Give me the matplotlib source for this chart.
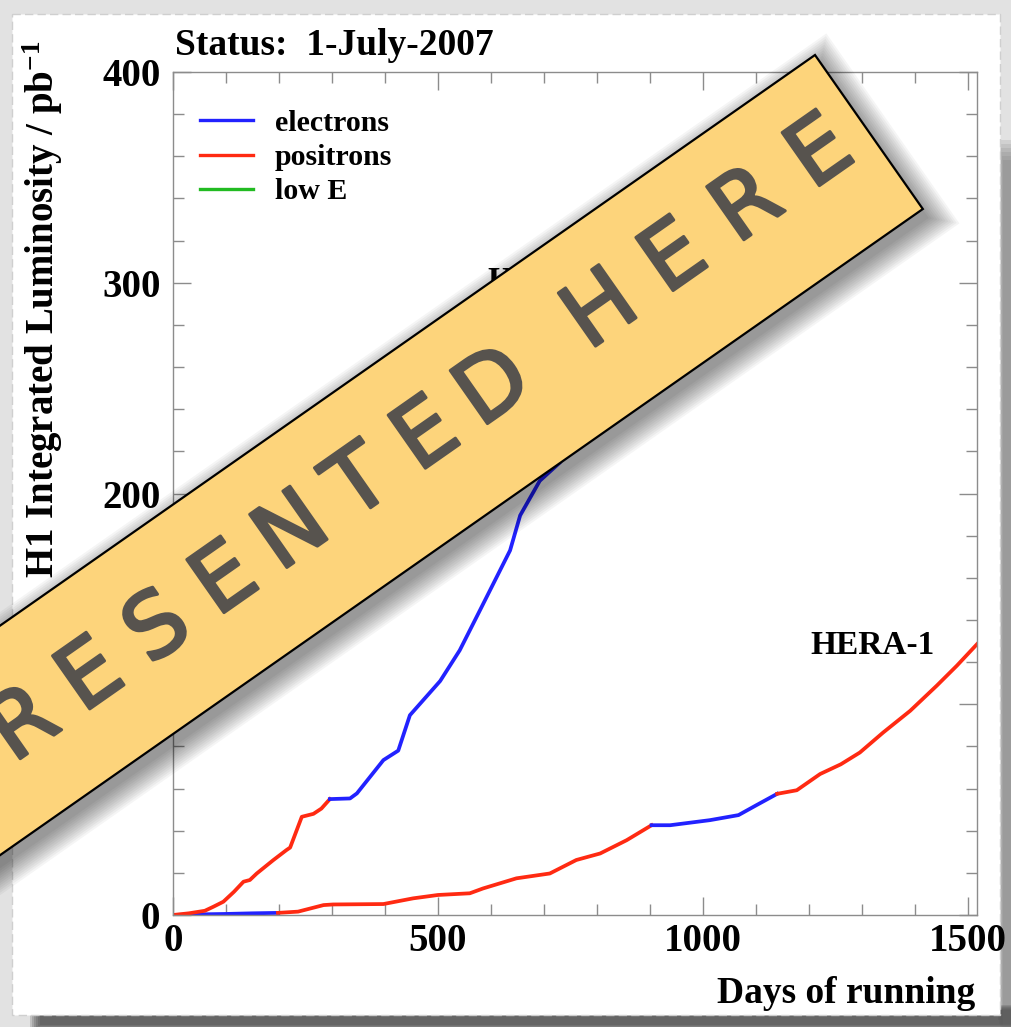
import numpy as np
import matplotlib
matplotlib.use('Agg')
import matplotlib.pyplot as plt
import matplotlib.patheffects as pe
from matplotlib.patches import Polygon, Rectangle
from matplotlib.lines import Line2D

plt.rcParams['font.family'] = ['Liberation Serif', 'DejaVu Serif']
plt.rcParams['font.weight'] = 'bold'
plt.rcParams['mathtext.fontset'] = 'custom'
plt.rcParams['mathtext.rm'] = 'Liberation Serif:bold'
plt.rcParams['mathtext.it'] = 'Liberation Serif:bold'
plt.rcParams['mathtext.bf'] = 'Liberation Serif:bold'

# HERA-1 (lower curve), split by beam type
h1_e_a_days = [0, 50, 100, 150, 198]
h1_e_a_lumi = [0, 0.3, 0.5, 0.8, 1.0]
h1_p_a_days = [198, 236, 284, 302, 397, 453, 500, 560, 585, 648, 711, 761, 806, 856, 903]
h1_p_a_lumi = [1.0, 1.6, 4.7, 5.0, 5.2, 7.9, 9.5, 10.3, 12.6, 17.4, 19.7, 26.1, 29.2, 35.5, 42.6]
h1_e_b_days = [903, 938, 1013, 1067, 1100, 1140]
h1_e_b_lumi = [42.6, 42.6, 45.0, 47.4, 52.0, 57.5]
h1_p_b_days = [1140, 1177, 1221, 1260, 1296, 1340, 1391, 1441, 1479, 1517]
h1_p_b_lumi = [57.5, 59.2, 66.9, 71.5, 77.1, 86.6, 96.9, 108.8, 118.3, 128.5]

# HERA-2 (upper curve)
h2_p_days = [0, 30, 60, 76, 95, 115, 133, 145, 158, 189, 214, 221, 243, 265, 280, 296]
h2_p_lumi = [0, 0.8, 2.0, 3.9, 6.3, 11.0, 15.8, 16.6, 19.7, 26.0, 30.8, 32.0, 46.6, 48.0, 50.5, 55.0]
h2_e_days = [296, 334, 347, 397, 425, 447, 504, 541, 579, 617, 636, 655, 692, 730,
             780, 830, 880, 930, 980, 1030, 1080, 1130, 1170]
h2_e_lumi = [55.0, 55.3, 57.7, 73.5, 78.0, 94.8, 111.0, 125.6, 144.5, 163.5, 173.0, 189.6, 206.0, 214.7,
             232, 250, 262, 278, 295, 310, 325, 340, 350]
h2_low_days = [1170, 1200]
h2_low_lumi = [350, 354]

c_e = '#2222ff'
c_p = '#ff2a12'
c_low = '#22bb22'

fig = plt.figure(figsize=(10.12, 10.27), dpi=100)
fig.patch.set_facecolor('#e2e2e2')

# paper background
bg = fig.add_axes([0, 0, 1, 1], zorder=-5)
bg.set_xlim(0, 1012)
bg.set_ylim(1027, 0)
bg.axis('off')
for i in range(6):
    bg.add_patch(Rectangle((30 + i * 2, 1010 - i), 982, 20, color='#3a3a3a', alpha=0.2, lw=0))
    bg.add_patch(Rectangle((998 + i, 140 + i * 4), 14, 880, color='#707070', alpha=0.14, lw=0))
bg.add_patch(Rectangle((12, 14), 988, 1001, facecolor='white', edgecolor='#cfcfcf', lw=1, ls=(0, (6, 3))))

ax = fig.add_axes([173 / 1012, 1 - 915 / 1027, 804 / 1012, 843 / 1027])
ax.set_facecolor('white')

lw = 2.7
ax.plot(h1_e_a_days, h1_e_a_lumi, color=c_e, lw=lw)
ax.plot(h1_p_a_days, h1_p_a_lumi, color=c_p, lw=lw)
ax.plot(h1_e_b_days, h1_e_b_lumi, color=c_e, lw=lw)
ax.plot(h1_p_b_days, h1_p_b_lumi, color=c_p, lw=lw)
ax.plot(h2_p_days, h2_p_lumi, color=c_p, lw=lw)
ax.plot(h2_e_days, h2_e_lumi, color=c_e, lw=lw)
ax.plot(h2_low_days, h2_low_lumi, color=c_low, lw=lw)

ax.set_xlim(0, 1517)
ax.set_ylim(0, 400)
ax.set_xticks([0, 500, 1000, 1500])
ax.set_xticks(np.arange(0, 1517, 100), minor=True)
ax.set_yticks([0, 100, 200, 300, 400])
ax.set_yticks(np.arange(0, 401, 20), minor=True)
ax.tick_params(which='both', direction='in', top=True, right=True, color='#8c8c8c', width=1.0,
               labelsize=28)
ax.tick_params(which='major', length=13)
ax.tick_params(which='minor', length=8)
ax.tick_params(axis='x', pad=6)
ax.tick_params(axis='y', pad=9)
for s in ax.spines.values():
    s.set_color('#8c8c8c')
    s.set_linewidth(1.0)

handles = [Line2D([], [], color=c_e, lw=2.4), Line2D([], [], color=c_p, lw=2.4),
           Line2D([], [], color=c_low, lw=2.4)]
ax.legend(handles, ['electrons', 'positrons', 'low E'], loc='upper left',
          bbox_to_anchor=(0.034, 0.955), frameon=False, fontsize=21.5, handlelength=1.75,
          handletextpad=0.75, labelspacing=0.24, borderpad=0, borderaxespad=0)

ax.text(594, 308, 'HERA-2', fontsize=24, va='top', ha='left')
ax.text(1202, 128, 'HERA-1', fontsize=24, va='center', ha='left')

fig.text(175 / 1012, 1 - 55 / 1027, 'Status:  1-July-2007', fontsize=27, va='baseline', ha='left')
fig.text(975 / 1012, 1 - 1003 / 1027, 'Days of running', fontsize=27, va='baseline', ha='right')
fig.text(43 / 1012, 1 - 40 / 1027, r'H1 Integrated Luminosity / pb$^{-1}$', fontsize=28,
         rotation=90, va='top', ha='center')

# "presented here" banner on top
ov = fig.add_axes([0, 0, 1, 1], zorder=10)
ov.set_xlim(0, 1012)
ov.set_ylim(1027, 0)
ov.axis('off')
ov.patch.set_alpha(0)

a = np.deg2rad(35)
u = np.array([np.cos(a), -np.sin(a)])
n = np.array([np.sin(a), np.cos(a)])
corner = np.array([815.0, 55.0])
W = 188.0


def band(m, off=(0, 0)):
    pts = []
    for s, t in [(-1600, -m), (m, -m), (m, W + m), (-1600, W + m)]:
        pts.append(corner + s * u + t * n + np.array(off))
    return np.array(pts)


for i in range(12):
    ov.add_patch(Polygon(band(i * 2.0, (6, 9)), closed=True, color='black', alpha=0.04, lw=0))
ov.add_patch(Polygon(band(0), closed=True, facecolor='#fdd47b', edgecolor='black', lw=1.6))

# letter positions along the band: "PRESENTED" then "HERE"
word1, word2 = 'PRESENTED', 'HERE'
s_pos = [-1115 + 82.6 * k for k in range(len(word1))] + [-322 + 90 * k for k in range(len(word2))]
chars = list(word1) + list(word2)
ink = '#57534e'
for k, (ch, s) in enumerate(zip(chars, s_pos)):
    t = 97 - 12 * (s + 1115) / (1115 - 51)
    p = corner + s * u + t * n
    ov.text(p[0], p[1], ch, fontsize=64, family='DejaVu Sans', fontweight='normal',
            color=ink, rotation=35, rotation_mode='anchor', ha='center', va='center',
            path_effects=[pe.Stroke(linewidth=2.2, foreground=ink, joinstyle='round'), pe.Normal()])

fig.savefig('out.png', dpi=100, facecolor=fig.get_facecolor())
